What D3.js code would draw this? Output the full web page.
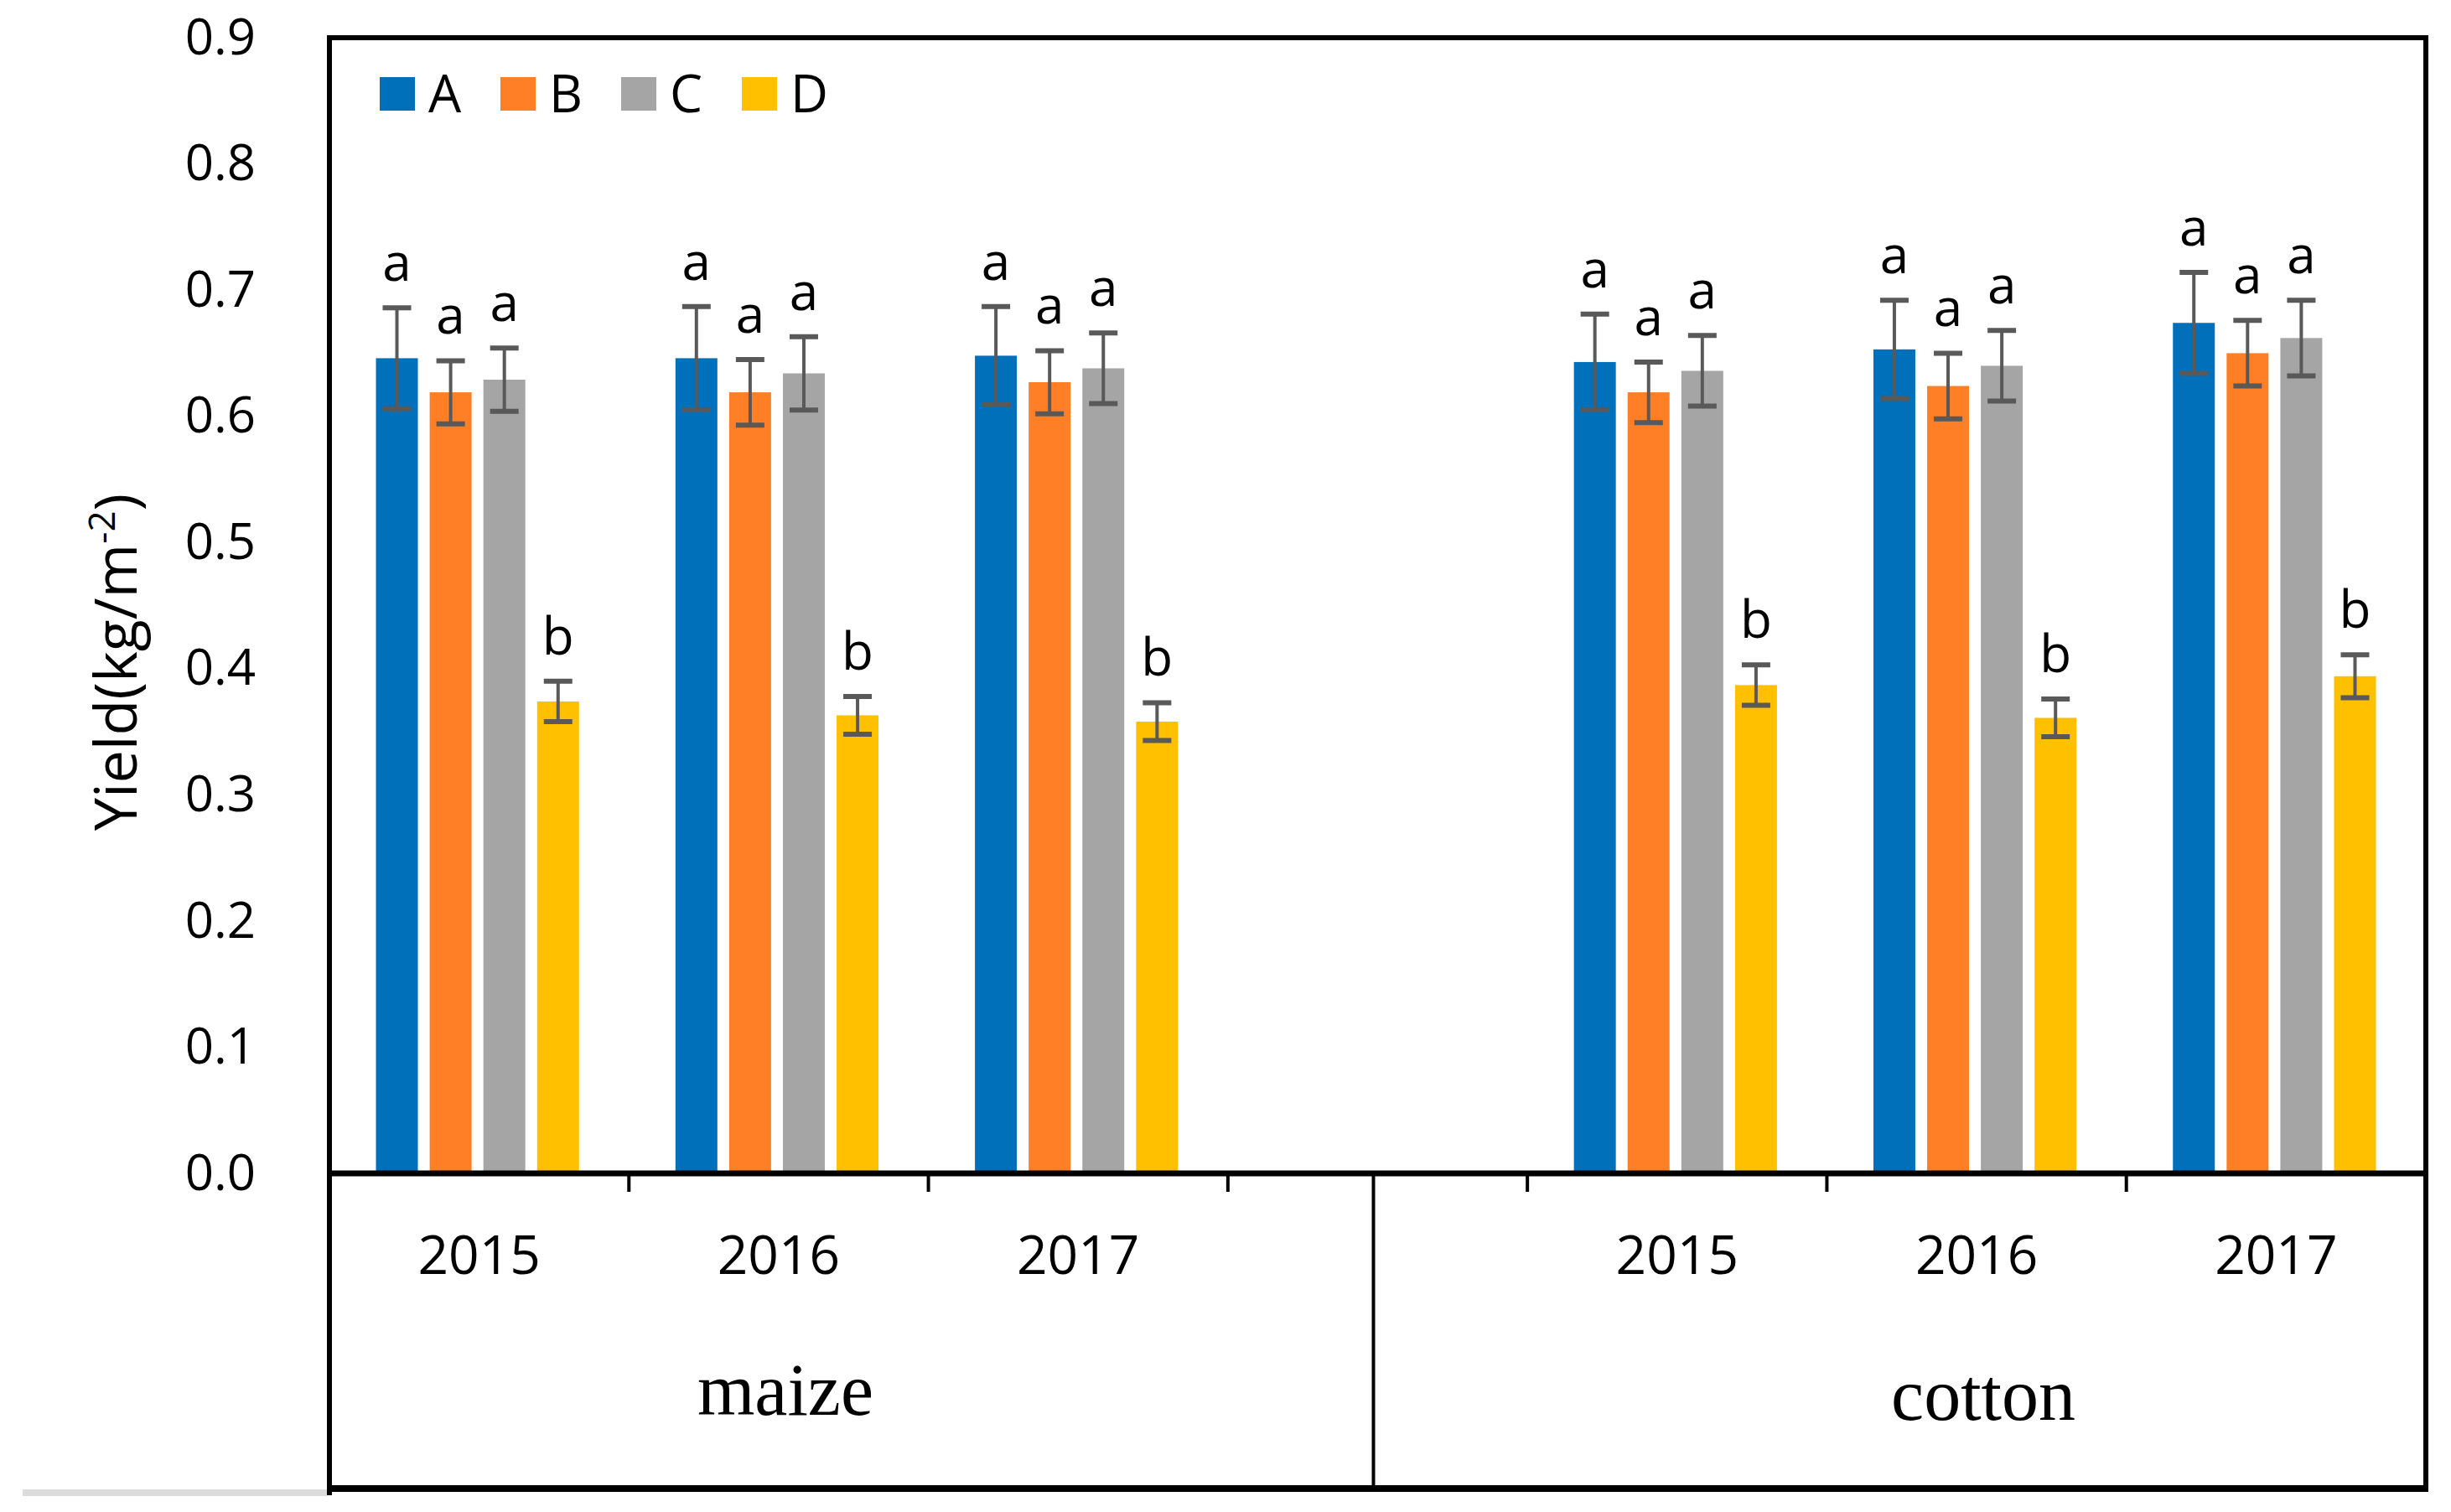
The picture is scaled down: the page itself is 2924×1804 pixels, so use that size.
<!DOCTYPE html>
<html>
<head>
<meta charset="utf-8">
<script src="https://cdn.jsdelivr.net/npm/d3@7"></script>
<style>
  body { margin: 0; background: #fff; }
  text { font-family: "Open Sans", sans-serif; }
</style>
</head>
<body>
<svg id="chart"></svg>
<script>
// slots along the x axis; "" is the empty slot between the two crops
var slots = ["maize 2015", "maize 2016", "maize 2017", "", "cotton 2015", "cotton 2016", "cotton 2017"];
var slotYears = ["2015", "2016", "2017", "", "2015", "2016", "2017"];
var crops = ["maize", "cotton"];
var series = ["A", "B", "C", "D"];
var colors = ["#0070BA", "#FF7F27", "#A5A5A5", "#FFC000"];
var yTicks = [0, 0.1, 0.2, 0.3, 0.4, 0.5, 0.6, 0.7, 0.8, 0.9];

// yield values (kg/m-2), one entry per non-empty slot
var yieldA = [0.646, 0.646, 0.648, 0.643, 0.653, 0.674];
var yieldB = [0.619, 0.619, 0.627, 0.619, 0.624, 0.650];
var yieldC = [0.629, 0.634, 0.638, 0.636, 0.640, 0.662];
var yieldD = [0.374, 0.363, 0.358, 0.387, 0.361, 0.394];
// error bar half-widths
var errA = [0.040, 0.041, 0.039, 0.038, 0.039, 0.040];
var errB = [0.025, 0.026, 0.025, 0.024, 0.026, 0.026];
var errC = [0.025, 0.029, 0.028, 0.028, 0.028, 0.030];
var errD = [0.016, 0.015, 0.015, 0.016, 0.015, 0.017];
// significance letters
var letterA = ["a", "a", "a", "a", "a", "a"];
var letterB = ["a", "a", "a", "a", "a", "a"];
var letterC = ["a", "a", "a", "a", "a", "a"];
var letterD = ["b", "b", "b", "b", "b", "b"];

(function () {
    var W = 2924, H = 1804;
    var plotL = 393, plotR = 2894, plotT = 45, axisY = 1400, plotB = 1776;

    var svg = d3.select("#chart").attr("width", W).attr("height", H);

    var x0 = d3.scaleBand().domain(slots).range([plotL, plotR]).padding(0);
    var groupW = x0.bandwidth() * 0.678;
    var x1 = d3.scaleBand().domain(series).range([0, groupW]).paddingInner(0.22).paddingOuter(0);
    var y = d3.scaleLinear().domain([0, 0.9]).range([axisY, plotT]);

    var values = [yieldA, yieldB, yieldC, yieldD];
    var errs = [errA, errB, errC, errD];
    var letters = [letterA, letterB, letterC, letterD];

    var realSlots = slots.filter(function (s) { return s !== ""; });
    var bars = [];
    realSlots.forEach(function (slot, i) {
        series.forEach(function (s, k) {
            bars.push({ slot: slot, s: s, k: k, v: values[k][i], e: errs[k][i], l: letters[k][i] });
        });
    });

    function barX(d) {
        return x0(d.slot) + (x0.bandwidth() - groupW) / 2 + x1(d.s) - 2;
    }

    // bars
    svg.append("g").selectAll("rect").data(bars).enter().append("rect")
        .attr("x", barX)
        .attr("y", function (d) { return y(d.v); })
        .attr("width", x1.bandwidth())
        .attr("height", function (d) { return axisY - y(d.v); })
        .style("fill", function (d) { return colors[d.k]; });

    // error bars
    var eb = svg.append("g").attr("stroke", "#595959").attr("stroke-width", 6);
    var capW = 34;
    bars.forEach(function (d) {
        var cx = barX(d) + x1.bandwidth() / 2;
        eb.append("line").attr("x1", cx).attr("x2", cx)
            .attr("y1", y(d.v + d.e)).attr("y2", y(d.v - d.e)).attr("stroke-width", 4);
        eb.append("line").attr("x1", cx - capW / 2).attr("x2", cx + capW / 2)
            .attr("y1", y(d.v + d.e)).attr("y2", y(d.v + d.e));
        eb.append("line").attr("x1", cx - capW / 2).attr("x2", cx + capW / 2)
            .attr("y1", y(d.v - d.e)).attr("y2", y(d.v - d.e));
    });

    // letters
    svg.append("g").selectAll("text").data(bars).enter().append("text")
        .attr("x", function (d) { return barX(d) + x1.bandwidth() / 2; })
        .attr("y", function (d) { return y(d.v + d.e) - 32; })
        .attr("text-anchor", "middle")
        .style("font-size", "62px")
        .style("fill", "#000")
        .text(function (d) { return d.l; });

    // y axis labels
    var yAxis = d3.axisLeft(y).tickValues(yTicks).tickFormat(d3.format(".1f")).tickSize(0).tickPadding(0);
    var gy = svg.append("g").attr("transform", "translate(" + (plotL - 88) + ",0)").call(yAxis);
    gy.select(".domain").remove();
    gy.selectAll("text").style("font-size", "60px").style("font-family", "'Open Sans', sans-serif").style("fill", "#000");

    // y axis title
    var yt = svg.append("text")
        .attr("transform", "translate(163,790) rotate(-90)")
        .attr("text-anchor", "middle")
        .style("font-size", "70px")
        .style("fill", "#000");
    yt.append("tspan").text("Yield(kg/m");
    yt.append("tspan").attr("dy", -26).style("font-size", "44px").text("-2");
    yt.append("tspan").attr("dy", 26).text(")");

    // frame
    var frame = svg.append("g").attr("stroke", "#000").attr("fill", "none");
    frame.append("line").attr("x1", plotL).attr("x2", plotR).attr("y1", plotT).attr("y2", plotT).attr("stroke-width", 6);
    frame.append("line").attr("x1", plotL).attr("x2", plotL).attr("y1", plotT - 3).attr("y2", plotB + 8).attr("stroke-width", 6);
    frame.append("line").attr("x1", plotR).attr("x2", plotR).attr("y1", plotT - 3).attr("y2", plotB + 4).attr("stroke-width", 6);
    frame.append("line").attr("x1", plotL).attr("x2", plotR).attr("y1", axisY).attr("y2", axisY).attr("stroke-width", 7);
    frame.append("line").attr("x1", plotL).attr("x2", plotR + 3).attr("y1", plotB).attr("y2", plotB).attr("stroke-width", 8);
    svg.append("line").attr("x1", 27).attr("x2", plotL - 3).attr("y1", plotB + 5).attr("y2", plotB + 5)
        .attr("stroke", "#dcdcdc").attr("stroke-width", 8);

    // category ticks between slots
    slots.slice(1).forEach(function (s) {
        var tx = x0(s);
        frame.append("line").attr("x1", tx).attr("x2", tx).attr("y1", axisY).attr("y2", axisY + 22).attr("stroke-width", 4);
    });
    // divider between crops: middle of the empty slot
    var divX = x0("") + x0.bandwidth() / 2 - 5;
    frame.append("line").attr("x1", divX).attr("x2", divX).attr("y1", axisY).attr("y2", plotB).attr("stroke-width", 4);

    // year labels
    svg.append("g").selectAll("text").data(realSlots).enter().append("text")
        .attr("x", function (s) { return x0(s) + x0.bandwidth() / 2; })
        .attr("y", 1520)
        .attr("text-anchor", "middle")
        .style("font-size", "64px")
        .style("fill", "#000")
        .text(function (s) { return slotYears[slots.indexOf(s)]; });

    // crop labels under the middle year of each crop
    svg.append("g").selectAll("text").data(crops).enter().append("text")
        .attr("x", function (c) { return x0(c + " 2016") + x0.bandwidth() / 2 + 8; })
        .attr("y", function (c, i) { return 1688 + i * 6; })
        .attr("text-anchor", "middle")
        .style("font-family", "'Liberation Serif', 'Times New Roman', serif")
        .style("font-size", "88px")
        .style("fill", "#000")
        .text(function (c) { return c; });

    // legend
    var lg = svg.append("g").attr("transform", "translate(453,112)");
    var legendStep = 144;
    series.forEach(function (s, k) {
        var g = lg.append("g").attr("transform", "translate(" + (k * legendStep) + ",0)");
        g.append("rect").attr("x", 0).attr("y", -20).attr("width", 42).attr("height", 40).style("fill", colors[k]);
        g.append("text").attr("x", 58).attr("y", 22).style("font-size", "62px").style("fill", "#000").text(s);
    });
})();
</script>
</body>
</html>
